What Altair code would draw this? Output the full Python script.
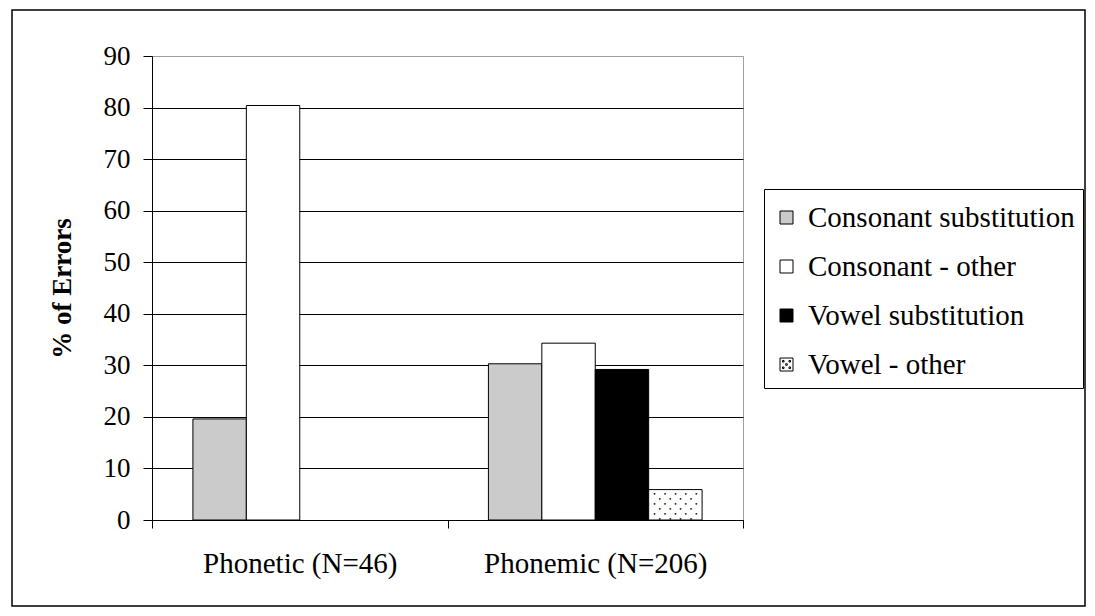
import altair as alt
import pandas as pd

groups = ["Phonetic (N=46)", "Phonemic (N=206)"]
series = ["Consonant substitution", "Consonant - other", "Vowel substitution", "Vowel - other"]
phonetic_vals = [19.6, 80.4, 0.0, 0.0]
phonemic_vals = [30.3, 34.3, 29.2, 5.9]
fills = ["#cbcbcb", "#ffffff", "#000000", "#ffffff"]
y_ticks = [0, 10, 20, 30, 40, 50, 60, 70, 80, 90]

rows = []
for g, vals in zip(groups, [phonetic_vals, phonemic_vals]):
    for s, v in zip(series, vals):
        rows.append({"group": g, "series": s, "value": v})
df = pd.DataFrame(rows)

FONT = "Liberation Serif"
dot_path = ("M-1,-1H1V1H-1Z "
            "M-0.62,-0.62h0.24v0.24h-0.24Z M0.38,-0.62h0.24v0.24h-0.24Z "
            "M-0.12,-0.12h0.24v0.24h-0.24Z "
            "M-0.62,0.38h0.24v0.24h-0.24Z M0.38,0.38h0.24v0.24h-0.24Z")

x_enc = alt.X("group:N", sort=groups, title=None,
              scale=alt.Scale(paddingInner=0, paddingOuter=0),
              axis=alt.Axis(labelAngle=0, labelFont=FONT, labelFontSize=29,
                            labelColor="black", domainColor="black", tickColor="black",
                            tickSize=8, labelPadding=21, tickBand="extent", grid=False,
                            labelLimit=600))
xoff = alt.XOffset("series:N", sort=series,
                   scale=alt.Scale(paddingInner=0, paddingOuter=0.766))
y_enc = alt.Y("value:Q", title="% of Errors",
              scale=alt.Scale(domain=[0, 90], nice=False),
              axis=alt.Axis(values=y_ticks, labelFont=FONT, labelFontSize=27,
                            labelColor="black", domainColor="black", tickColor="black",
                            tickSize=9, labelPadding=13,
                            titleFont=FONT, titleFontSize=27, titleFontWeight="bold",
                            titleColor="black", titlePadding=27,
                            grid=True,
                            gridColor=alt.condition("datum.value === 90", alt.value("#a0a0a0"), alt.value("black")),
                            gridWidth=1))

bars = alt.Chart(df).transform_filter("datum.value > 0").mark_bar(
    stroke="black", strokeWidth=1, opacity=1
).encode(
    x=x_enc,
    xOffset=xoff,
    y=y_enc,
    color=alt.Color("series:N", sort=series,
                    scale=alt.Scale(domain=series, range=fills),
                    legend=alt.Legend(
                        title=" ", titleFontSize=1, titlePadding=5,
                        orient="none", legendX=612, legendY=133,
                        labelFont=FONT, labelFontSize=29, labelColor="black",
                        labelLimit=500, labelOffset=7,
                        symbolType=alt.ExprRef("datum.value === 'Vowel - other' ? '" + dot_path + "' : 'square'"),
                        symbolSize=169,
                        symbolStrokeColor="black", symbolStrokeWidth=1,
                        rowPadding=19, padding=8,
                        strokeColor="black", fillColor="white",
                    )),
)

# dotted texture for the "Vowel - other" bar: one multi-line text per bar
NB = "\u00a0"
row_a = ("•" + NB * 2) * 4 + "•"
row_b = ("•" + NB * 2) * 3 + "•"
dots = alt.Chart(df).transform_filter(
    "datum.series === 'Vowel - other' && datum.value > 0"
).transform_calculate(
    txt="slice(replace(pad('', ceil(datum.value / 2), 'x'), regexp('x', 'g'), '"
        + row_a + "\\n" + row_b + "\\n'), 0, -1)"
).mark_text(font="DejaVu Sans Mono", fontSize=5.8, color="black", align="center",
            baseline="top", lineBreak="\n", lineHeight=5.0, dy=1).encode(
    x=alt.X("group:N", sort=groups),
    xOffset=xoff,
    y=alt.Y("value:Q"),
    text="txt:N",
)

frame = alt.Chart(pd.DataFrame({"k": [0]})).mark_rect(
    filled=False, stroke="black", strokeWidth=1.5
).encode(
    x=alt.value(-140), x2=alt.value(933), y=alt.value(-46), y2=alt.value(550)
)

chart = alt.layer(bars, dots, frame).properties(
    width=591, height=464,
    autosize=alt.AutoSizeParams(type="none"),
    padding={"left": 144, "top": 48, "right": 344, "bottom": 88},
    background="white",
).configure_view(stroke="#a0a0a0", strokeWidth=1)

chart.save("out.html", embed_options={"renderer": "svg", "actions": False})
